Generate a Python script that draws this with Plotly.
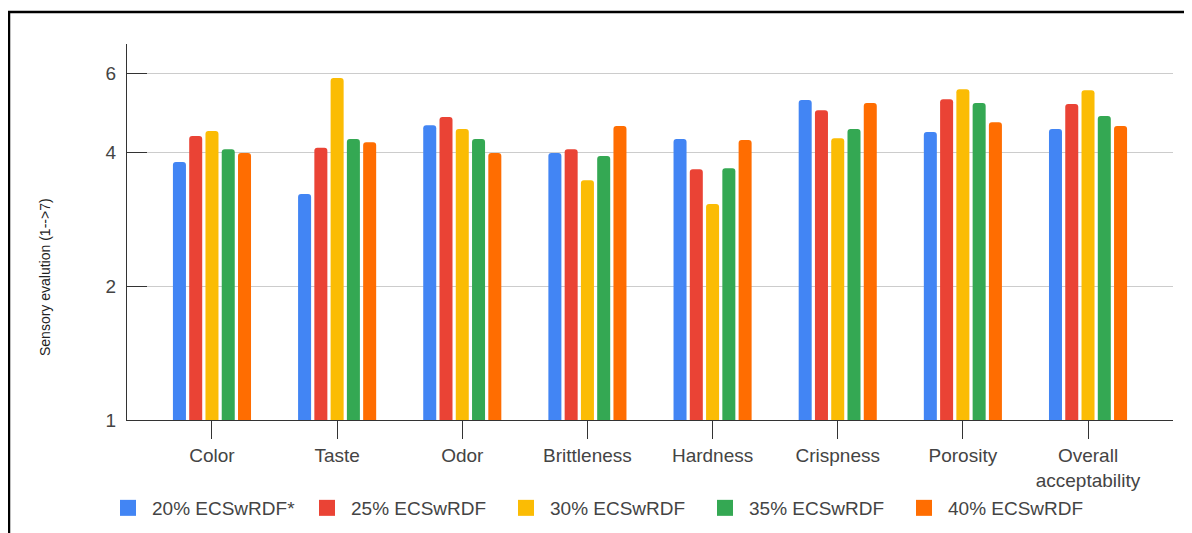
import plotly.graph_objects as go

categories = ["Color", "Taste", "Odor", "Brittleness", "Hardness", "Crispness", "Porosity", "Overall<br>acceptability"]
series_names = ["20% ECSwRDF*", "25% ECSwRDF", "30% ECSwRDF", "35% ECSwRDF", "40% ECSwRDF"]
s20 = [3.80, 3.22, 4.60, 3.98, 4.28, 5.24, 4.44, 4.51]
s25 = [4.35, 4.09, 4.80, 4.06, 3.66, 4.97, 5.26, 5.13]
s30 = [4.46, 5.87, 4.51, 3.46, 3.06, 4.30, 5.54, 5.51]
s35 = [4.06, 4.28, 4.28, 3.92, 3.68, 4.51, 5.16, 4.82]
s40 = [3.98, 4.21, 3.98, 4.58, 4.26, 5.16, 4.67, 4.58]
series_values = [s20, s25, s30, s35, s40]
colors = ["#4285F4", "#EA4335", "#FBBC04", "#34A853", "#FF6D01"]
y_tick_vals = [1, 2, 4, 6]
y_tick_text = ["1", "2", "4", "6"]

# page is rendered with an 8px body margin
OFF = 8
W, H = 1192 - OFF, 533 - OFF
# plot area in page pixels
PL, PR, PT, PB = 127, 1173, 44, 420
ML, MR, MT, MB = PL - OFF, (W + OFF) - PR, PT - OFF, (H + OFF) - PB
PW = PR - PL
PH = PB - PT

def px_x(p):
    return (p - PL) / PW

def px_y(p):
    return (PB - p) / PH

def cont_x(p):
    return (p - OFF) / W

def cont_y(p):
    return 1 - (p - OFF) / H

font_fam = "Liberation Sans, Arial, sans-serif"

fig = go.Figure()
for name, vals, col in zip(series_names, series_values, colors):
    fig.add_trace(go.Bar(x=categories, y=vals, name=name, legendgroup=name, showlegend=False,
                         marker=dict(color=col, line=dict(width=0))))
# legend entries with larger square swatches
for name, col in zip(series_names, colors):
    fig.add_trace(go.Scatter(x=[None], y=[None], mode="markers", name=name, legendgroup=name,
                             marker=dict(symbol="square", size=16, color=col), hoverinfo="skip"))

fig.update_layout(
    width=W, height=H,
    margin=dict(l=ML, r=MR, t=MT, b=MB),
    paper_bgcolor="white", plot_bgcolor="white",
    barmode="group", bargap=0.35, bargroupgap=0.2, barcornerradius=3,
    font=dict(family=font_fam, size=19, color="#444"),
    showlegend=True,
    legend=dict(orientation="h", xref="container", yref="container",
                x=cont_x(104), xanchor="left", y=cont_y(508), yanchor="middle",
                entrywidth=146, entrywidthmode="pixels", itemwidth=38,
                font=dict(family=font_fam, size=19, color="#444"), bgcolor="rgba(0,0,0,0)"),
    xaxis=dict(range=[-0.679, 7.679], showline=True, linecolor="#333", linewidth=1,
               ticks="outside", ticklen=18, tickcolor="#333", tickwidth=1,
               tickfont=dict(family=font_fam, size=19, color="#444"), showgrid=False,
               fixedrange=True, automargin=False),
    yaxis=dict(type="log", range=[0, 0.8451], tickvals=y_tick_vals, ticktext=y_tick_text,
               showline=True, linecolor="#333", linewidth=1,
               ticks="inside", ticklen=20, tickcolor="#333", tickwidth=1,
               showgrid=True, gridcolor="#cccccc", gridwidth=1, zeroline=False,
               tickfont=dict(family=font_fam, size=19, color="#444"),
               ticklabelstandoff=6, automargin=False),
    annotations=[dict(text="Sensory evalution (1-->7)", xref="paper", yref="paper",
                      x=px_x(45), y=px_y(277), textangle=-90, showarrow=False,
                      xanchor="center", yanchor="middle",
                      font=dict(family=font_fam, size=14, color="#222"))],
    shapes=[
        dict(type="line", xref="paper", yref="paper", x0=px_x(9), x1=px_x(9), y0=px_y(11), y1=px_y(560),
             line=dict(color="black", width=2.5)),
        dict(type="line", xref="paper", yref="paper", x0=px_x(8), x1=px_x(1210), y0=px_y(12), y1=px_y(12),
             line=dict(color="black", width=2.5)),
    ],
)

fig.write_html("out.html")
